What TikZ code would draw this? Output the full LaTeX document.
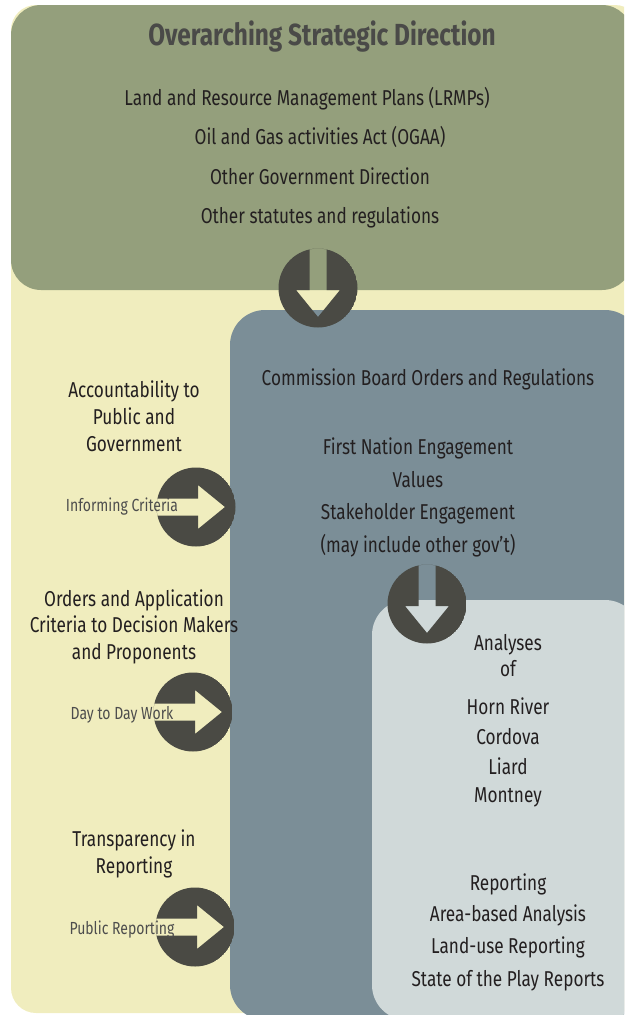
\documentclass[tikz,border=0pt]{standalone}
\usepackage{fontspec}
\setmainfont{Fira Sans}[FakeStretch=0.8]
\definecolor{bgyellow}{HTML}{F0EDBE}
\definecolor{topgreen}{HTML}{949F7C}
\definecolor{midblue}{HTML}{7B8E97}
\definecolor{lightgrey}{HTML}{D0D9D9}
\definecolor{diskc}{HTML}{4A4A44}
\definecolor{titlec}{HTML}{4A4A48}
\definecolor{txtc}{HTML}{231F20}
\definecolor{smallc}{HTML}{4D4D4D}
\begin{document}
\begin{tikzpicture}[x=1pt,y=-1pt,
  txt/.style={text=txtc,font=\fontsize{21.5}{23}\selectfont,inner sep=0pt,anchor=base},
  small/.style={text=smallc,font=\fontsize{17.5}{19}\selectfont,inner sep=0pt,anchor=base},
  title/.style={text=titlec,font=\bfseries\fontsize{30.5}{33}\selectfont,inner sep=0pt,anchor=base},
  pics/arrowdisk/.style={code={
    \begin{scope}
      \clip (0,0) circle (39.5);
      \fill[diskc,even odd rule] (0,0) circle (39.5)
        (-8.5,-50) -- (-8.5,2) -- (-22,2) -- (0,29) -- (22,2) -- (8.5,2) -- (8.5,-50) -- cycle;
    \end{scope}}}]
\useasboundingbox (0,0) rectangle (624,1015);
\clip (0,0) rectangle (624,1015);
% panels
\fill[bgyellow,rounded corners=25] (11,5) rectangle (640,1013);
\fill[topgreen,rounded corners=30] (11,5) rectangle (632,290);
\fill[midblue,rounded corners=35] (230,310) rectangle (640,1020);
\fill[lightgrey,rounded corners=35] (372,600) rectangle (640,1020);
% arrow disks
\pic (d1) at (318,288) {arrowdisk};
\pic (d2) at (427,604) {arrowdisk};
\pic[rotate=90] (d3) at (196,507) {arrowdisk};
\pic[rotate=90] (d4) at (193,712) {arrowdisk};
\pic[rotate=90] (d5) at (195,927) {arrowdisk};
% top texts
\node[title] (t0) at (322,45) {Overarching Strategic Direction};
\node[txt] (t1) at (307,105) {Land and Resource Management Plans (LRMPs)};
\node[txt] (t2) at (320,144) {Oil and Gas activities Act (OGAA)};
\node[txt] (t3) at (320,184) {Other Government Direction};
\node[txt] (t4) at (320,223) {Other statutes and regulations};
% blue panel
\node[txt] (b1) at (428,385) {Commission Board Orders and Regulations};
\node[txt] (b2) at (418,454) {First Nation Engagement};
\node[txt] (b3) at (418,487) {Values};
\node[txt] (b4) at (418,519) {Stakeholder Engagement};
\node[txt] (b5) at (418,552) {(may include other gov't)};
% left column
\node[txt] (l1) at (134,397) {Accountability to};
\node[txt] (l2) at (134,424) {Public and};
\node[txt] (l3) at (134,451) {Government};
\node[small] (s1) at (122,511) {Informing Criteria};
\node[txt] (l4) at (134,606) {Orders and Application};
\node[txt] (l5) at (134,632) {Criteria to Decision Makers};
\node[txt] (l6) at (134,659) {and Proponents};
\node[small] (s2) at (122,719) {Day to Day Work};
\node[txt] (l7) at (134,846) {Transparency in};
\node[txt] (l8) at (134,873) {Reporting};
\node[small] (s3) at (122,934) {Public Reporting};
% light panel
\node[txt] (a1) at (508,650) {Analyses};
\node[txt] (a2) at (508,676) {of};
\node[txt] (a3) at (508,714) {Horn River};
\node[txt] (a4) at (508,744) {Cordova};
\node[txt] (a5) at (508,774) {Liard};
\node[txt] (a6) at (508,802) {Montney};
\node[txt] (r1) at (508,890) {Reporting};
\node[txt] (r2) at (508,921) {Area-based Analysis};
\node[txt] (r3) at (508,953) {Land-use Reporting};
\node[txt] (r4) at (508,986) {State of the Play Reports};
\end{tikzpicture}
\end{document}
